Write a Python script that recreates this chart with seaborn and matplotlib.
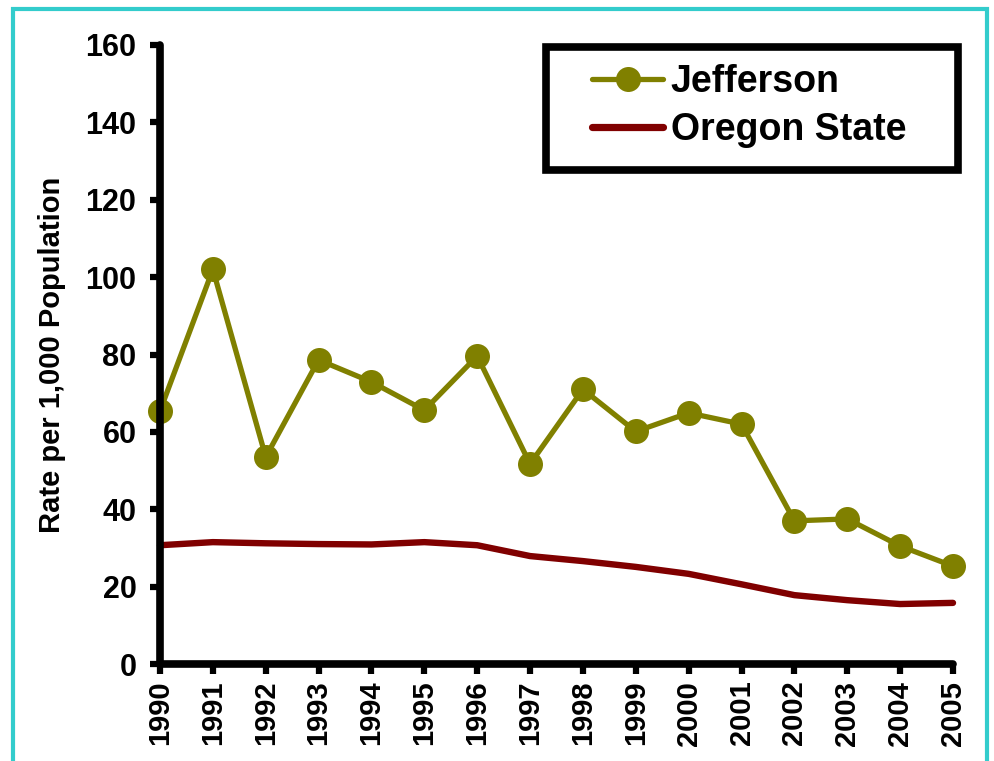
import matplotlib
matplotlib.use("Agg")
import matplotlib.pyplot as plt
import seaborn as sns
import pandas as pd
from matplotlib.patches import Rectangle

years = [1990, 1991, 1992, 1993, 1994, 1995, 1996, 1997, 1998, 1999, 2000, 2001, 2002, 2003, 2004, 2005]
jefferson = [65.4, 102.0, 53.5, 78.6, 72.9, 65.6, 79.6, 51.7, 71.0, 60.1, 64.9, 62.0, 37.0, 37.5, 30.5, 25.3]
oregon = [30.7, 31.5, 31.2, 31.0, 30.9, 31.5, 30.7, 27.9, 26.6, 25.1, 23.3, 20.6, 17.8, 16.5, 15.5, 15.8]
yticks = [0, 20, 40, 60, 80, 100, 120, 140, 160]

sns.set_theme(style="white")
plt.rcParams['font.family'] = ['Liberation Sans', 'DejaVu Sans']
plt.rcParams['font.weight'] = 'bold'
plt.rcParams['text.color'] = 'black'
plt.rcParams['axes.labelcolor'] = 'black'
plt.rcParams['xtick.color'] = 'black'
plt.rcParams['ytick.color'] = 'black'

df = pd.DataFrame({"Year": years, "Jefferson": jefferson, "Oregon State": oregon})

fig = plt.figure(figsize=(9.94, 7.61), dpi=100)
ax = fig.add_axes([160/994, 1-664/761, (953-160)/994, (664-45)/761])

sns.lineplot(data=df, x="Year", y="Oregon State", ax=ax, color="#800000", linewidth=4.6,
             label="Oregon State", solid_capstyle="round", clip_on=False)
sns.lineplot(data=df, x="Year", y="Jefferson", ax=ax, color="#808000", linewidth=3.8,
             marker="o", markersize=18, markeredgewidth=0, label="Jefferson", clip_on=False)

ax.set_xlim(1990, 2005)
ax.set_ylim(0, 160)
ax.set_xticks(years)
ax.set_xticklabels([str(y) for y in years], rotation=90, fontsize=21, fontweight='bold')
ax.set_yticks(yticks)
ax.set_yticklabels([str(v) for v in yticks], fontsize=22, fontweight='bold')
ax.set_xlabel("")
ax.set_ylabel("Rate per 1,000 Population", fontsize=21, fontweight='bold', labelpad=14)

for s in ["top", "right"]:
    ax.spines[s].set_visible(False)
for s in ["left", "bottom"]:
    ax.spines[s].set_linewidth(5.5)
    ax.spines[s].set_color("black")
    ax.spines[s].set_capstyle("round")
ax.tick_params(axis="both", direction="out", length=7, width=4.5, color="black", left=True, bottom=True)
ax.tick_params(axis="y", pad=10)
ax.tick_params(axis="x", pad=5)
for t in ax.xaxis.get_ticklines() + ax.yaxis.get_ticklines():
    t.set_solid_capstyle("round")

handles, labels = ax.get_legend_handles_labels()
order = [labels.index("Jefferson"), labels.index("Oregon State")]
leg = ax.legend([handles[i] for i in order], [labels[i] for i in order],
                loc="center left", bbox_to_anchor=(592/994, 1-106/761),
                bbox_transform=fig.transFigure, fontsize=27, frameon=False,
                handlelength=1.9, handletextpad=0.2, borderpad=0, labelspacing=0.3,
                borderaxespad=0)
for txt in leg.get_texts():
    txt.set_fontweight('bold')
for h in leg.legend_handles:
    if h.get_label() == "Oregon State" or h.get_color() == "#800000":
        h.set_linewidth(5.2)

# legend frame
fig.patches.append(Rectangle((546/994, 1-170/761), (958-546)/994, (170-47)/761, transform=fig.transFigure,
                             fill=False, edgecolor="black", linewidth=5.5, joinstyle="miter"))

fig.patches.append(Rectangle((13/994, -0.05), (987-13)/994, 1-9/761+0.05, transform=fig.transFigure,
                             fill=False, edgecolor="#33CCCC", linewidth=3))

fig.savefig("out.png", dpi=100)
